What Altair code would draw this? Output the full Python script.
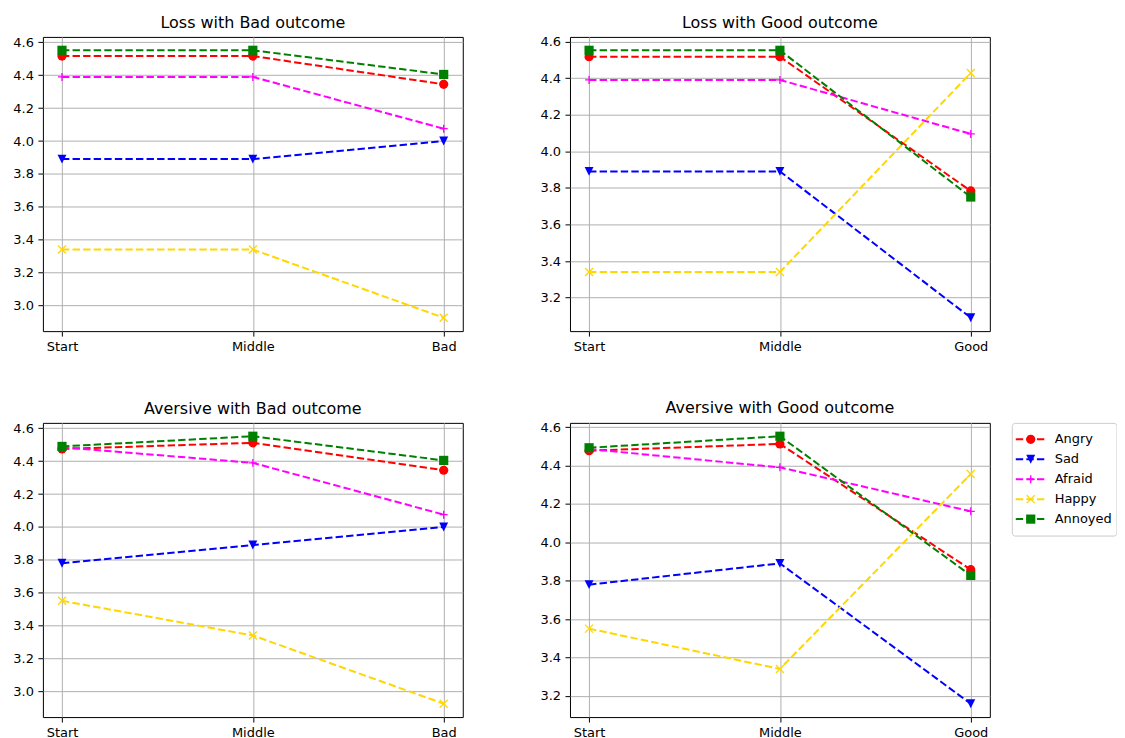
import altair as alt
import pandas as pd

SERIES = ["Angry", "Sad", "Afraid", "Happy", "Annoyed"]
COLORS = ["#ff0000", "#0000ff", "#ff00ff", "#ffd700", "#008000"]

TITLES = ["Loss with Bad outcome", "Loss with Good outcome",
          "Aversive with Bad outcome", "Aversive with Good outcome"]
STAGES_BAD = ["Start", "Middle", "Bad"]
STAGES_GOOD = ["Start", "Middle", "Good"]

LOSS_BAD = {
    "Angry":   [4.517, 4.517, 4.345],
    "Sad":     [3.890, 3.890, 4.000],
    "Afraid":  [4.390, 4.390, 4.075],
    "Happy":   [3.340, 3.340, 2.925],
    "Annoyed": [4.552, 4.552, 4.405],
}
LOSS_GOOD = {
    "Angry":   [4.517, 4.517, 3.783],
    "Sad":     [3.890, 3.890, 3.090],
    "Afraid":  [4.390, 4.390, 4.095],
    "Happy":   [3.340, 3.340, 4.428],
    "Annoyed": [4.552, 4.552, 3.750],
}
AVERSIVE_BAD = {
    "Angry":   [4.475, 4.512, 4.345],
    "Sad":     [3.779, 3.890, 4.000],
    "Afraid":  [4.485, 4.390, 4.075],
    "Happy":   [3.551, 3.340, 2.925],
    "Annoyed": [4.490, 4.552, 4.405],
}
AVERSIVE_GOOD = {
    "Angry":   [4.477, 4.512, 3.857],
    "Sad":     [3.779, 3.890, 3.159],
    "Afraid":  [4.485, 4.390, 4.161],
    "Happy":   [3.550, 3.340, 4.355],
    "Annoyed": [4.492, 4.552, 3.827],
}

TICKS_LOW = [3.0, 3.2, 3.4, 3.6, 3.8, 4.0, 4.2, 4.4, 4.6]
TICKS_HIGH = [3.2, 3.4, 3.6, 3.8, 4.0, 4.2, 4.4, 4.6]

# marker styles (shape, filled, size)
PLUS = "M-1,0H1M0,-1V1"
XMARK = "M-1,-1L1,1M-1,1L1,-1"
TRI_DOWN = "M0,1L-1,-1L1,-1Z"
MARKERS = {
    "Angry": ("circle", True, 85),
    "Sad": (TRI_DOWN, True, 80),
    "Afraid": (PLUS, False, 64),
    "Happy": (XMARK, False, 64),
    "Annoyed": ("square", True, 85),
}

FONT = "DejaVu Sans"
TITLE_OFFSET = 5
DASH = [7.4, 3.2]

color_enc = alt.Color("series:N", scale=alt.Scale(domain=SERIES, range=COLORS), legend=None)


def marker_mark(chart, s):
    shape, filled, size = MARKERS[s]
    if filled:
        return chart.mark_point(shape=shape, filled=True, size=size, opacity=1)
    return chart.mark_point(shape=shape, filled=False, size=size, opacity=1, strokeWidth=1.33)


def panel(title, stages, values, ticks):
    rows = []
    for s in SERIES:
        for st, v in zip(stages, values[s]):
            rows.append({"series": s, "stage": st, "value": v})
    df = pd.DataFrame(rows)
    allv = [v for s in SERIES for v in values[s]]
    lo, hi = min(allv), max(allv)
    m = 0.05 * (hi - lo)
    base = alt.Chart(df).encode(
        x=alt.X("stage:N", sort=stages,
                scale=alt.Scale(type="point", padding=0.1),
                axis=alt.Axis(title=None, labelAngle=0, grid=True)),
        y=alt.Y("value:Q",
                scale=alt.Scale(domain=[lo - m, hi + m], nice=False, zero=False),
                axis=alt.Axis(title=None, values=ticks, format=".1f")),
        color=color_enc,
    )
    layers = []
    for s in SERIES:
        sub = base.transform_filter(alt.datum.series == s)
        layers.append(sub.mark_line(strokeDash=DASH, strokeWidth=2))
        layers.append(marker_mark(sub, s))
    return alt.layer(*layers).properties(width=421, height=295, title=title)


def legend_panel():
    ldf = pd.DataFrame({"series": SERIES})
    ly = alt.Y("series:N", sort=SERIES,
               scale=alt.Scale(type="point", padding=0.825), axis=None)
    lbase = alt.Chart(ldf).encode(y=ly, color=color_enc)
    layers = [lbase.mark_rule(strokeDash=DASH, strokeWidth=2).encode(
        x=alt.value(4), x2=alt.value(33))]
    for s in SERIES:
        sub = lbase.transform_filter(alt.datum.series == s).encode(x=alt.value(19))
        layers.append(marker_mark(sub, s))
    layers.append(
        alt.Chart(ldf).mark_text(align="left", baseline="middle", font=FONT,
                                 fontSize=13, color="black")
        .encode(x=alt.value(43), y=ly, text="series:N")
    )
    return alt.layer(*layers).properties(
        width=105, height=113,
        title=alt.TitleParams(" ", fontSize=16, offset=TITLE_OFFSET),
        view=alt.ViewBackground(stroke="#cccccc", strokeWidth=1, cornerRadius=3),
    )


p1 = panel(TITLES[0], STAGES_BAD, LOSS_BAD, TICKS_LOW)
p2 = panel(TITLES[1], STAGES_GOOD, LOSS_GOOD, TICKS_HIGH)
p3 = panel(TITLES[2], STAGES_BAD, AVERSIVE_BAD, TICKS_LOW)
p4 = panel(TITLES[3], STAGES_GOOD, AVERSIVE_GOOD, TICKS_HIGH)
leg = legend_panel()

chart = (
    alt.vconcat(
        alt.hconcat(p1, p2, spacing=75.5),
        alt.hconcat(p3, alt.hconcat(p4, leg, spacing=20), spacing=75.5),
        spacing=45,
    )
    .properties(padding={"left": 4, "top": 5, "right": 0, "bottom": 0})
    .configure_view(stroke="black", strokeWidth=1)
    .configure_axis(labelFont=FONT, labelFontSize=13, labelColor="black",
                    tickColor="black", tickSize=5, tickWidth=1, labelPadding=4.5,
                    gridColor="#b0b0b0", gridWidth=1, domain=False)
    .configure_title(font=FONT, fontSize=16, fontWeight="normal", color="black",
                     offset=TITLE_OFFSET, anchor="middle")
)

chart.save("out.html", embed_options={"renderer": "svg", "actions": False})
